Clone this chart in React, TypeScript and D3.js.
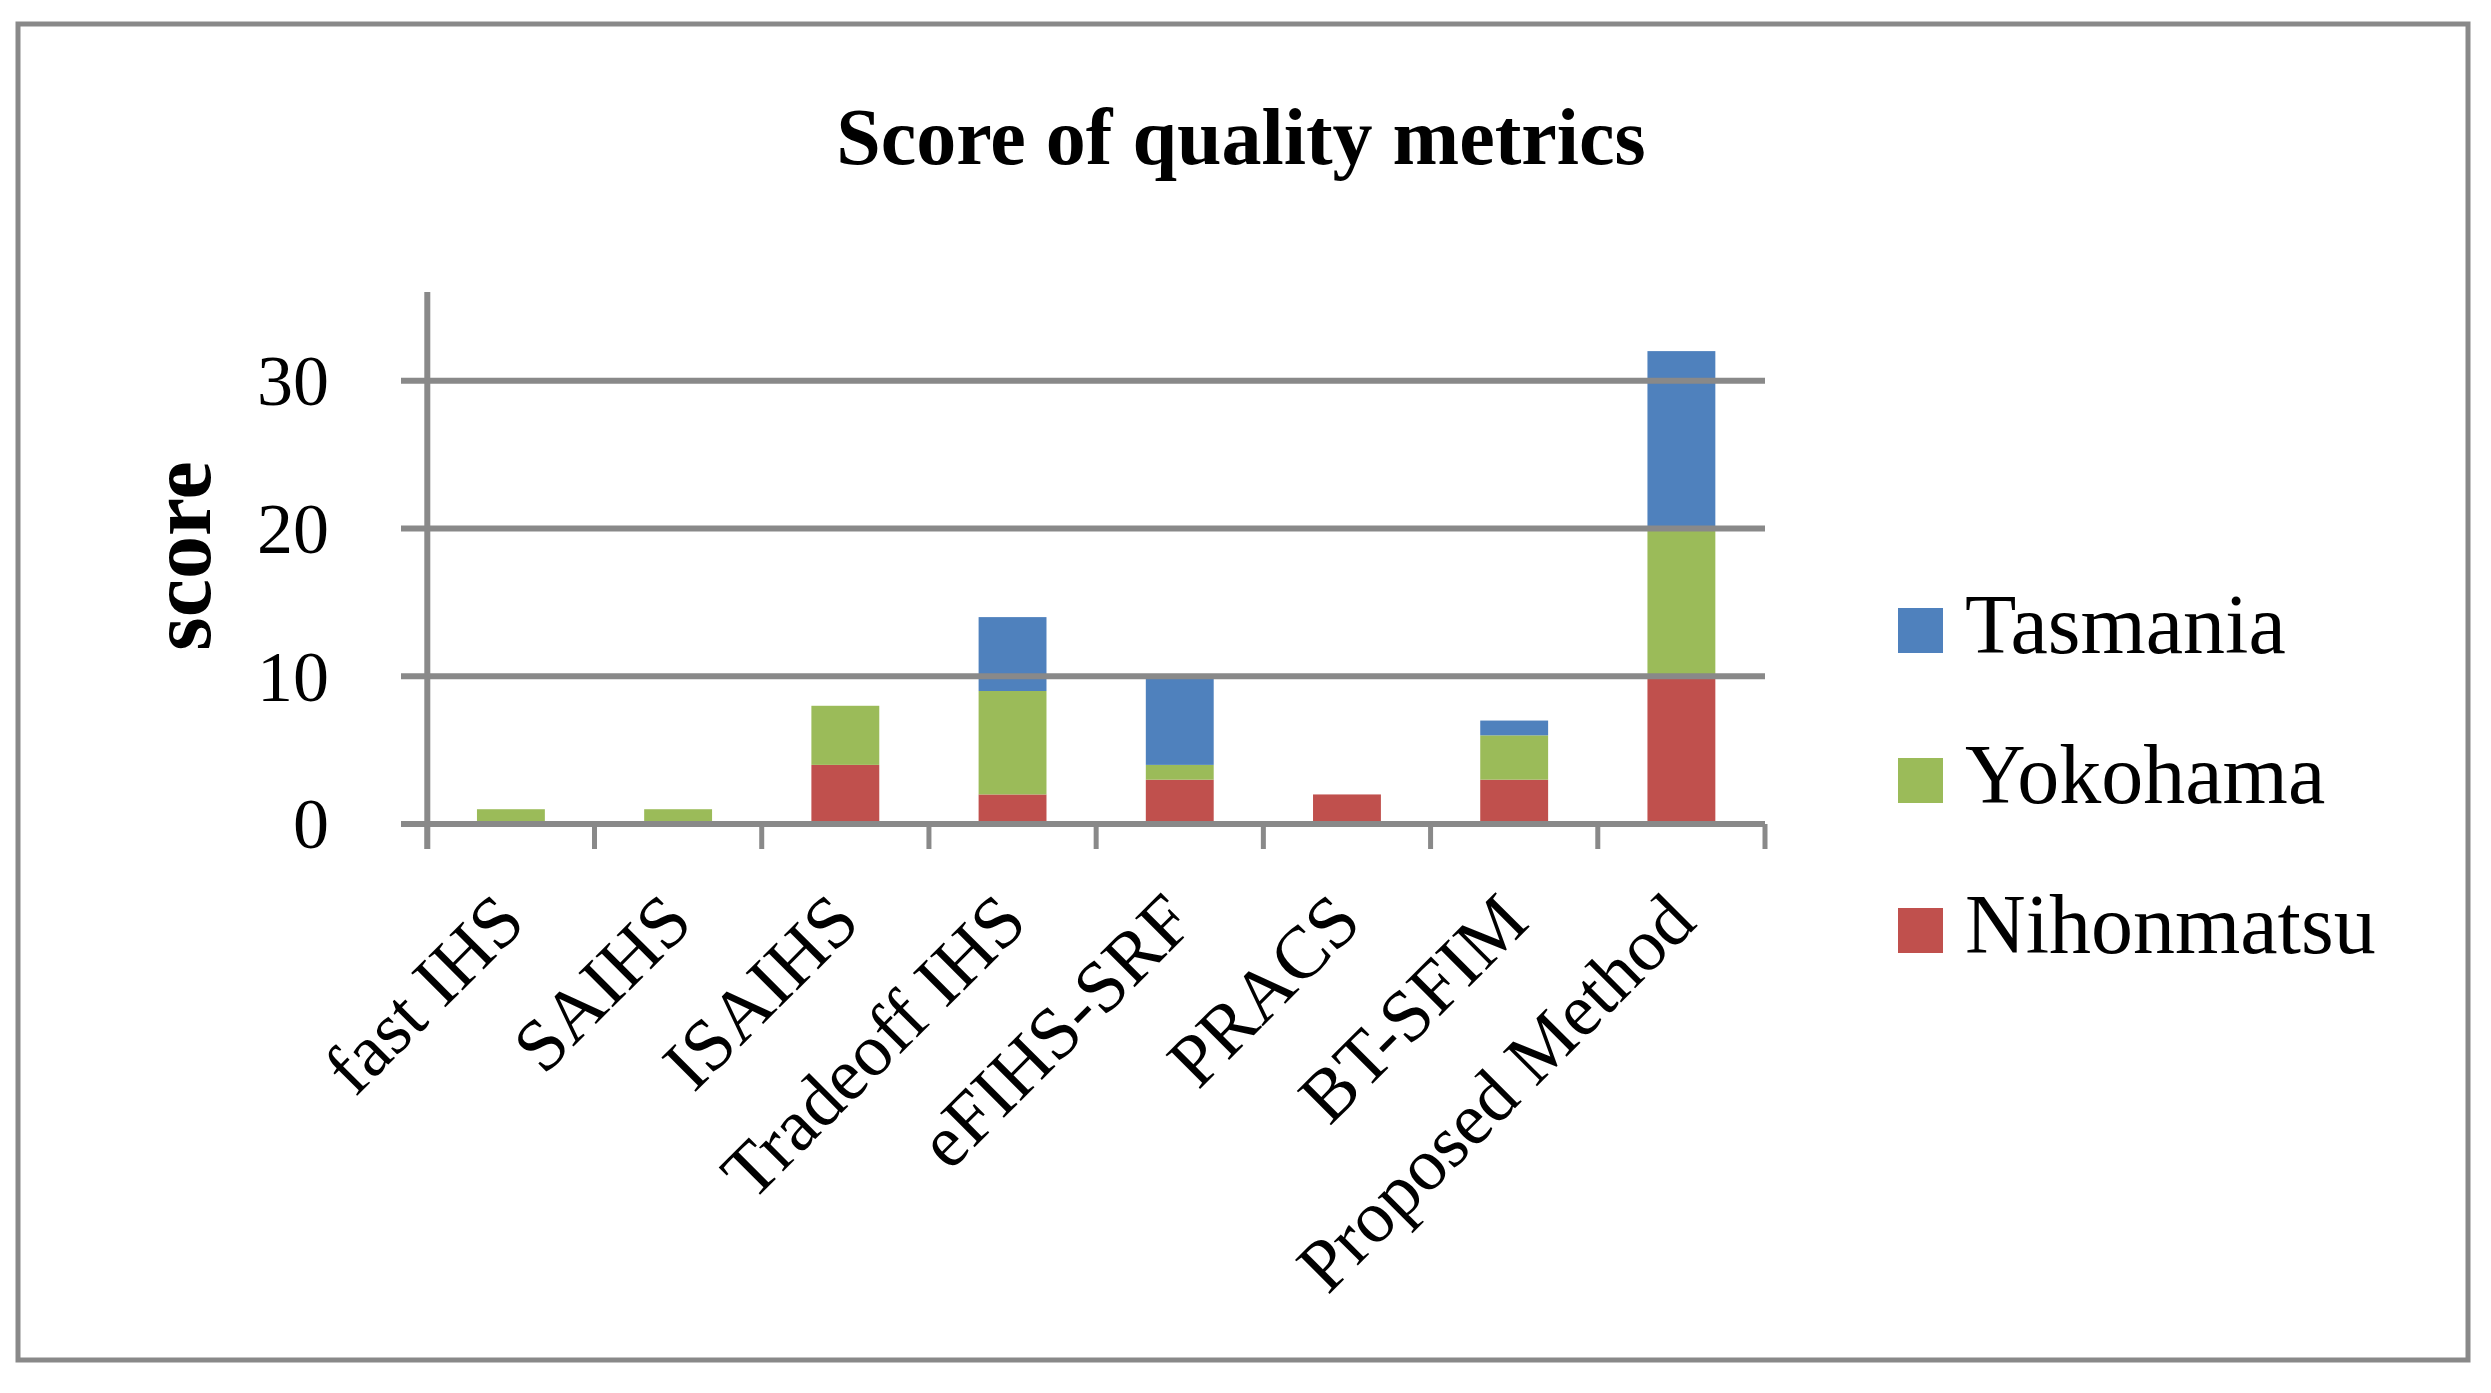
import React from "react";
import * as d3 from "d3";

const categories = ["fast IHS", "SAIHS", "ISAIHS", "Tradeoff IHS", "eFIHS-SRF", "PRACS", "BT-SFIM", "Proposed Method"];
const nihonmatsu = [0, 0, 4, 2, 3, 2, 3, 10];
const yokohama = [1, 1, 4, 7, 1, 0, 3, 10];
const tasmania = [0, 0, 0, 5, 6, 0, 1, 12];
const seriesNames = ["Nihonmatsu", "Yokohama", "Tasmania"];
const seriesColors = ["#C0504D", "#9BBB59", "#4F81BD"];
const yTicks = [0, 10, 20, 30];

const W = 2491;
const H = 1393;
const GRAY = "#898989";
const FONT = "'Liberation Serif', 'Times New Roman', serif";

export default function App() {
  const x0 = 427.3;
  const x1 = 1765;
  const x = d3.scaleBand<string>().domain(categories).range([x0, x1]).paddingInner(0.594).paddingOuter(0.297);
  const y = d3.scaleLinear().domain([0, 36]).range([824, 292]);

  const table = categories.map((c, i) => ({ cat: c, Nihonmatsu: nihonmatsu[i], Yokohama: yokohama[i], Tasmania: tasmania[i] }));
  const stack = d3.stack<any>().keys(seriesNames)(table);

  const step = x.step();
  const tickXs = d3.range(categories.length + 1).map((i) => x0 + i * step);

  const legendOrder = [2, 1, 0];
  const legendBaselines = [653, 803, 953];

  return (
    <svg width={W} height={H} style={{ position: "absolute", left: 0, top: 0, background: "#fff" }} fontFamily={FONT}>
      <rect x={0} y={0} width={W} height={H} fill="#fff" />
      <rect x={18} y={24} width={2450} height={1336} fill="none" stroke={GRAY} strokeWidth={5} />
      <text x={1241} y={164} textAnchor="middle" fontSize={80} fontWeight="bold" fill="#000">
        Score of quality metrics
      </text>

      {stack.map((layer, si) => (
        <g key={seriesNames[si]} fill={seriesColors[si]}>
          {layer.map((d, i) =>
            d[1] > d[0] ? (
              <rect key={i} x={x(categories[i])} width={x.bandwidth()} y={y(d[1])} height={y(d[0]) - y(d[1])} />
            ) : null
          )}
        </g>
      ))}

      {yTicks.map((t) => (
        <g key={t}>
          <line x1={401} x2={x1} y1={y(t)} y2={y(t)} stroke={GRAY} strokeWidth={6} />
          <text x={329} y={y(t)} dy="0.34em" textAnchor="end" fontSize={72} fill="#000">
            {t}
          </text>
        </g>
      ))}
      <line x1={x0} x2={x0} y1={292} y2={849} stroke={GRAY} strokeWidth={6} />
      {tickXs.map((tx, i) => (
        <line key={i} x1={tx} x2={tx} y1={824} y2={849} stroke={GRAY} strokeWidth={5} />
      ))}

      {categories.map((c) => {
        const cx = (x(c) as number) + x.bandwidth() / 2 + 17;
        const cy = 925;
        return (
          <text key={c} transform={`translate(${cx},${cy}) rotate(-45)`} textAnchor="end" fontSize={74} fill="#000">
            {c}
          </text>
        );
      })}

      <text transform={`translate(210,556) rotate(-90)`} textAnchor="middle" fontSize={86} fontWeight="bold" fill="#000">
        score
      </text>

      {legendOrder.map((si, k) => (
        <g key={si}>
          <rect x={1898} y={legendBaselines[k] - 45} width={45} height={45} fill={seriesColors[si]} />
          <text x={1965} y={legendBaselines[k]} fontSize={84} fill="#000">
            {seriesNames[si]}
          </text>
        </g>
      ))}
    </svg>
  );
}
